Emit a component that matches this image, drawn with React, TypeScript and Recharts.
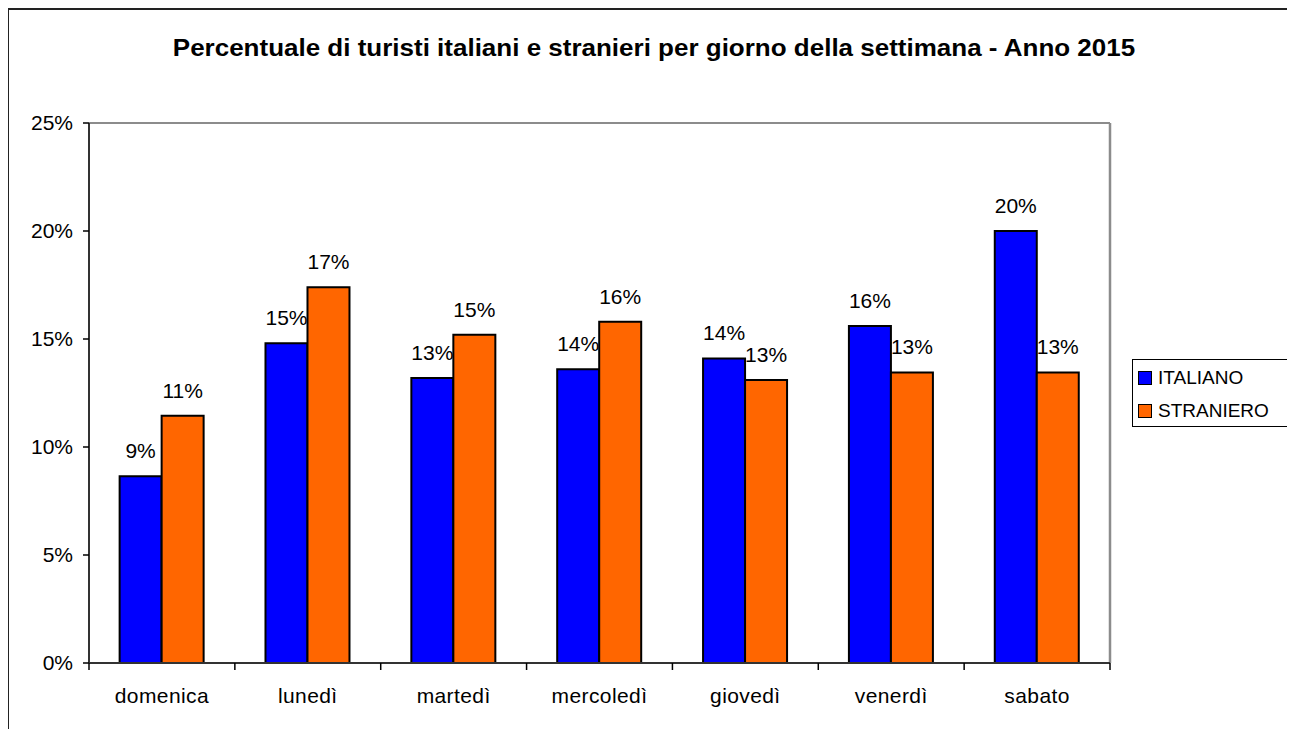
import { BarChart, Bar, XAxis, YAxis, Legend, LabelList, ReferenceLine } from 'recharts'

const days = ['domenica', 'lunedì', 'martedì', 'mercoledì', 'giovedì', 'venerdì', 'sabato']
const italiano = [8.65, 14.8, 13.2, 13.6, 14.1, 15.6, 20.0]
const straniero = [11.45, 17.4, 15.2, 15.8, 13.1, 13.45, 13.45]
const yTicks = [0, 5, 10, 15, 20, 25]

const seriesNames = ['ITALIANO', 'STRANIERO']
const seriesColors = ['#0000ff', '#ff6600']

const FONT = '"Liberation Sans", Arial, sans-serif'

const data = days.map((d, i) => ({ day: d, ITALIANO: italiano[i], STRANIERO: straniero[i] }))

const pct = (v: any) => `${Math.round(Number(v))}%`

function DayTick(props: any) {
  const { x, y, payload } = props
  const half = payload.offset || 0
  const isLast = payload.value === days[days.length - 1]
  return (
    <g>
      <line x1={x - half} y1={y - 8} x2={x - half} y2={y - 1} stroke="#000" strokeWidth={1.5} />
      {isLast && <line x1={x + half} y1={y - 8} x2={x + half} y2={y - 1} stroke="#000" strokeWidth={1.5} />}
      <text x={x} y={y} dy={32} textAnchor="middle" fontSize={21} letterSpacing={0.4} fill="#000" fontFamily={FONT}>
        {payload.value}
      </text>
    </g>
  )
}

function LegendBox() {
  return (
    <div style={{ border: '1px solid #000', width: 159, height: 66, boxSizing: 'content-box', background: '#fff', fontFamily: FONT }}>
      {seriesNames.map((name, i) => (
        <div key={name} style={{ display: 'flex', alignItems: 'center', height: 33, paddingLeft: 5, marginTop: i === 0 ? 1 : 0 }}>
          <span style={{ width: 12, height: 12, background: seriesColors[i], border: '1.5px solid #000', display: 'inline-block', marginRight: 6 }} />
          <span style={{ fontSize: 19, color: '#000' }}>{name}</span>
        </div>
      ))}
    </div>
  )
}

export default function App() {
  return (
    <div style={{ position: 'relative', width: 1287, height: 721, overflow: 'hidden', fontFamily: FONT }}>
      <div style={{ position: 'absolute', left: -1, top: 0, width: 1400, height: 800, borderTop: '2px solid #222', borderLeft: '2px solid #222' }} />
      <div style={{ position: 'absolute', left: 0, top: 27, width: 1292, textAlign: 'center', fontSize: 23, fontWeight: 'bold', lineHeight: '26px', color: '#000', transform: 'scaleX(1.13)', transformOrigin: '646px 0' }}>
        Percentuale di turisti italiani e stranieri per giorno della settimana - Anno 2015
      </div>
      <div style={{ position: 'absolute', left: 0, top: 0 }}>
        <BarChart
          width={1287}
          height={721}
          data={data}
          margin={{ top: 114, right: 184, bottom: 6, left: 21 }}
          barCategoryGap="21%"
          barGap={0}
        >
          <XAxis xAxisId="top" orientation="top" dataKey="day" height={1} tick={false} tickLine={false} axisLine={{ stroke: '#8c8c8c', strokeWidth: 2 }} />
          <YAxis yAxisId="right" orientation="right" width={1} tick={false} tickLine={false} axisLine={{ stroke: '#8c8c8c', strokeWidth: 2.5 }} domain={[0, 25]} />
          <XAxis
            dataKey="day"
            height={60}
            tickLine={false}
            tickSize={6}
            tickMargin={2}
            interval={0}
            axisLine={{ stroke: '#333', strokeWidth: 2 }}
            tick={<DayTick />}
          />
          <YAxis
            width={60}
            domain={[0, 25]}
            ticks={yTicks}
            tickFormatter={(v: number) => `${v}%`}
            tickSize={6}
            tickMargin={10}
            axisLine={{ stroke: '#333', strokeWidth: 2 }}
            tickLine={{ stroke: '#000', strokeWidth: 1.5 }}
            tick={{ fontSize: 21, fill: '#000', fontFamily: FONT }}
          />
          <ReferenceLine y={25} stroke="#8c8c8c" strokeWidth={2} />
          <Legend
            layout="horizontal"
            verticalAlign="middle"
            align="center"
            content={() => <LegendBox />}
            wrapperStyle={{ position: 'absolute', left: 1124, top: 351, width: 161 }}
          />
          {seriesNames.map((name, i) => (
            <Bar key={name} dataKey={name} fill={seriesColors[i]} stroke="#000" strokeWidth={2} isAnimationActive={false}>
              <LabelList dataKey={name} position="top" offset={18} formatter={pct} style={{ fontSize: 21, fill: '#000', fontFamily: FONT }} />
            </Bar>
          ))}
        </BarChart>
      </div>
    </div>
  )
}
